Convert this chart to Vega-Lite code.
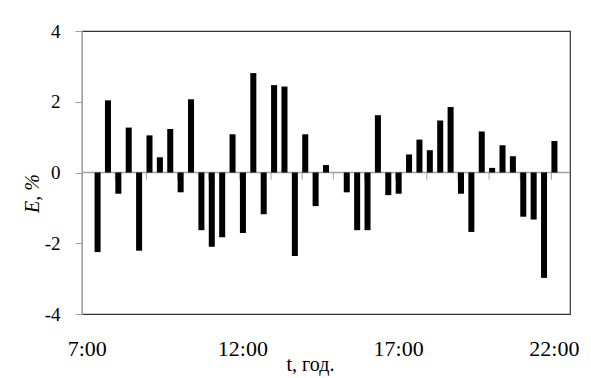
{
  "$schema": "https://vega.github.io/schema/vega-lite/v6.json",
  "width": 488,
  "height": 283,
  "autosize": {"type": "none"},
  "padding": {"left": 82, "top": 31, "right": 21, "bottom": 64},
  "background": "white",
  "config": {
    "view": {"stroke": "#333333", "strokeWidth": 1.2},
    "font": "Liberation Serif"
  },
  "datasets": {
    "errors": [
      {"t": "7:20", "E": -2.25}, {"t": "7:40", "E": 2.04}, {"t": "8:00", "E": -0.60},
      {"t": "8:20", "E": 1.27}, {"t": "8:40", "E": -2.21}, {"t": "9:00", "E": 1.05},
      {"t": "9:20", "E": 0.43}, {"t": "9:40", "E": 1.23}, {"t": "10:00", "E": -0.56},
      {"t": "10:20", "E": 2.07}, {"t": "10:40", "E": -1.63}, {"t": "11:00", "E": -2.10},
      {"t": "11:20", "E": -1.83}, {"t": "11:40", "E": 1.08}, {"t": "12:00", "E": -1.71},
      {"t": "12:20", "E": 2.81}, {"t": "12:40", "E": -1.18}, {"t": "13:00", "E": 2.47},
      {"t": "13:20", "E": 2.43}, {"t": "13:40", "E": -2.36}, {"t": "14:00", "E": 1.08},
      {"t": "14:20", "E": -0.95}, {"t": "14:40", "E": 0.21},
      {"t": "15:20", "E": -0.56}, {"t": "15:40", "E": -1.63}, {"t": "16:00", "E": -1.63},
      {"t": "16:20", "E": 1.62}, {"t": "16:40", "E": -0.64}, {"t": "17:00", "E": -0.60},
      {"t": "17:20", "E": 0.51}, {"t": "17:40", "E": 0.93}, {"t": "18:00", "E": 0.63},
      {"t": "18:20", "E": 1.47}, {"t": "18:40", "E": 1.85}, {"t": "19:00", "E": -0.60},
      {"t": "19:20", "E": -1.68}, {"t": "19:40", "E": 1.16}, {"t": "20:00", "E": 0.13},
      {"t": "20:20", "E": 0.77}, {"t": "20:40", "E": 0.46}, {"t": "21:00", "E": -1.25},
      {"t": "21:20", "E": -1.33}, {"t": "21:40", "E": -2.98}, {"t": "22:00", "E": 0.89}
    ],
    "hours": [
      {"t": "8:00"}, {"t": "9:00"}, {"t": "10:00"}, {"t": "11:00"}, {"t": "12:00"},
      {"t": "13:00"}, {"t": "14:00"}, {"t": "15:00"}, {"t": "16:00"}, {"t": "17:00"},
      {"t": "18:00"}, {"t": "19:00"}, {"t": "20:00"}, {"t": "21:00"}, {"t": "22:00"}
    ]
  },
  "layer": [
    {
      "data": {"values": [{}]},
      "mark": {"type": "rule", "color": "#a0a0a0", "strokeWidth": 1.5},
      "encoding": {"y": {"datum": 0, "type": "quantitative"}}
    },
    {
      "data": {"name": "hours"},
      "mark": {"type": "rule", "color": "#a0a0a0", "strokeWidth": 1},
      "encoding": {
        "x": {
          "field": "t",
          "type": "ordinal",
          "bandPosition": 0,
          "sort": null,
          "axis": {
            "values": ["7:00", "12:00", "17:00", "22:00"],
            "labelAngle": 0,
            "ticks": false,
            "tickSize": 0,
            "domain": false,
            "labelFont": "Liberation Serif",
            "labelFontSize": 22,
            "labelColor": "black",
            "labelBaseline": "alphabetic",
            "labelPadding": 41,
            "labelOverlap": false,
            "title": "t, год.",
            "titleFont": "Liberation Serif",
            "titleFontSize": 20,
            "titleFontWeight": "normal",
            "titleColor": "black",
            "titleX": 228,
            "titleY": 56,
            "titleBaseline": "alphabetic"
          }
        },
        "y": {"datum": 0, "type": "quantitative"},
        "y2": {"datum": -0.2}
      }
    },
    {
      "data": {"name": "errors"},
      "mark": {"type": "bar", "color": "black"},
      "encoding": {
        "x": {
          "field": "t",
          "type": "ordinal",
          "sort": null,
          "scale": {
            "domain": ["7:00","7:20","7:40","8:00","8:20","8:40","9:00","9:20","9:40","10:00","10:20","10:40","11:00","11:20","11:40","12:00","12:20","12:40","13:00","13:20","13:40","14:00","14:20","14:40","15:00","15:20","15:40","16:00","16:20","16:40","17:00","17:20","17:40","18:00","18:20","18:40","19:00","19:20","19:40","20:00","20:20","20:40","21:00","21:20","21:40","22:00","22:20"],
            "paddingInner": 0.42,
            "paddingOuter": 0.21
          },
          "axis": {
            "values": ["7:00", "12:00", "17:00", "22:00"],
            "labelAngle": 0,
            "ticks": false,
            "tickSize": 0,
            "domain": false,
            "labelFont": "Liberation Serif",
            "labelFontSize": 22,
            "labelColor": "black",
            "labelBaseline": "alphabetic",
            "labelPadding": 41,
            "labelOverlap": false,
            "title": "t, год.",
            "titleFont": "Liberation Serif",
            "titleFontSize": 20,
            "titleFontWeight": "normal",
            "titleColor": "black",
            "titleX": 228,
            "titleY": 56,
            "titleBaseline": "alphabetic"
          }
        },
        "y": {
          "field": "E",
          "type": "quantitative",
          "scale": {"domain": [-4, 4], "nice": false},
          "axis": {
            "values": [-4, -2, 0, 2, 4],
            "labelExpr": "'' + datum.value",
            "grid": false,
            "domainColor": "#a0a0a0",
            "tickColor": "#a0a0a0",
            "tickSize": 7,
            "labelFont": "Liberation Serif",
            "labelFontSize": 19,
            "labelColor": "black",
            "labelPadding": 15,
            "title": "E, %",
            "titleFont": "Liberation Serif",
            "titleFontSize": 20,
            "titleFontStyle": "italic",
            "titleFontWeight": "normal",
            "titleColor": "black",
            "titleAngle": -90,
            "titleAlign": "center",
            "titleBaseline": "middle",
            "titleX": -50,
            "titleY": 162
          }
        }
      }
    }
  ]
}
